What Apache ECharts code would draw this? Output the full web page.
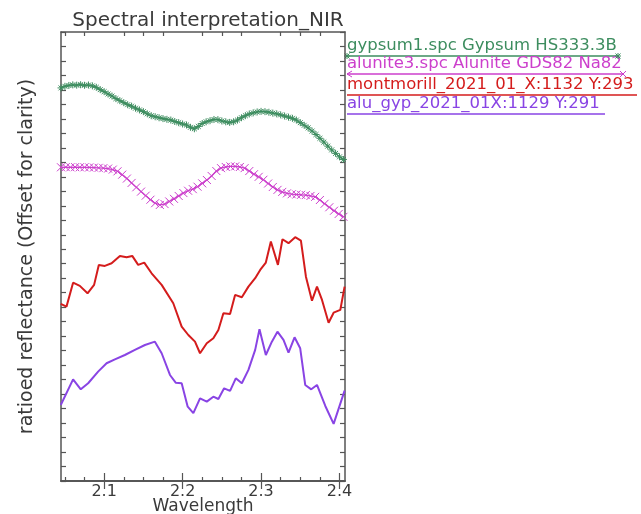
<!DOCTYPE html>
<html>
<head>
<meta charset="utf-8">
<title>Spectral interpretation_NIR</title>
<script src="https://cdn.jsdelivr.net/npm/echarts@6/dist/echarts.min.js"></script>
<style>
  html, body { margin: 0; padding: 0; background: #fff; }
  #chart { width: 641px; height: 514px; }
</style>
</head>
<body>
<div id="chart"></div>
<script>
// series names, as in the plot key
var seriesNames = [
    'gypsum1.spc Gypsum HS333.3B',
    'alunite3.spc Alunite GDS82 Na82',
    'montmorill_2021_01_X:1132 Y:293',
    'alu_gyp_2021_01X:1129 Y:291'
];
var seriesColors = ['#3d8d5f', '#cc3fcc', '#d41c1c', '#8944e4'];

// x tick labels (micrometres)
var xMajorTicks = [2.1, 2.2, 2.3, 2.4];
var xMinorTicks = [2.05, 2.075, 2.125, 2.15, 2.175, 2.225, 2.25, 2.275, 2.325, 2.35, 2.375];

// gypsum library spectrum (offset)
var gypsumWl = [2.045, 2.050, 2.055, 2.060, 2.065, 2.070, 2.075, 2.080, 2.085, 2.090,
    2.095, 2.100, 2.105, 2.110, 2.115, 2.120, 2.125, 2.130, 2.135, 2.140,
    2.145, 2.150, 2.155, 2.160, 2.165, 2.170, 2.175, 2.180, 2.185, 2.190,
    2.195, 2.200, 2.205, 2.210, 2.215, 2.220, 2.225, 2.230, 2.235, 2.240,
    2.245, 2.250, 2.255, 2.260, 2.265, 2.270, 2.275, 2.280, 2.285, 2.290,
    2.295, 2.300, 2.305, 2.310, 2.315, 2.320, 2.325, 2.330, 2.335, 2.340,
    2.345, 2.350, 2.355, 2.360, 2.365, 2.370, 2.375, 2.380, 2.385, 2.390,
    2.395, 2.400, 2.405];
var gypsumVal = [27.14, 27.25, 27.31, 27.35, 27.33, 27.36, 27.32, 27.34, 27.28, 27.18,
    27.02, 26.88, 26.72, 26.58, 26.40, 26.26, 26.12, 25.98, 25.88, 25.74,
    25.62, 25.50, 25.35, 25.22, 25.15, 25.08, 25.02, 24.97, 24.92, 24.82,
    24.74, 24.65, 24.58, 24.42, 24.32, 24.48, 24.68, 24.80, 24.88, 24.96,
    24.95, 24.86, 24.80, 24.76, 24.80, 24.92, 25.08, 25.22, 25.34, 25.42,
    25.48, 25.52, 25.50, 25.46, 25.40, 25.35, 25.28, 25.20, 25.12, 25.04,
    24.92, 24.74, 24.56, 24.38, 24.16, 23.92, 23.66, 23.40, 23.12, 22.86,
    22.62, 22.38, 22.20];

// alunite library spectrum (offset)
var aluniteWl = [2.045, 2.051, 2.057, 2.063, 2.069, 2.075, 2.081, 2.087, 2.093, 2.099,
    2.105, 2.111, 2.117, 2.123, 2.129, 2.135, 2.141, 2.147, 2.153, 2.159,
    2.165, 2.171, 2.177, 2.183, 2.189, 2.195, 2.201, 2.207, 2.213, 2.219,
    2.225, 2.231, 2.237, 2.243, 2.249, 2.255, 2.261, 2.267, 2.273, 2.279,
    2.285, 2.291, 2.297, 2.303, 2.309, 2.315, 2.321, 2.327, 2.333, 2.339,
    2.345, 2.351, 2.357, 2.363, 2.369, 2.375, 2.381, 2.387, 2.393, 2.399,
    2.405];
var aluniteVal = [21.66, 21.67, 21.66, 21.67, 21.66, 21.66, 21.65, 21.64, 21.62, 21.60,
    21.57, 21.50, 21.38, 21.15, 20.88, 20.58, 20.28, 19.98, 19.70, 19.42,
    19.18, 19.06, 19.12, 19.30, 19.48, 19.68, 19.88, 20.04, 20.15, 20.32,
    20.55, 20.78, 21.06, 21.40, 21.60, 21.68, 21.72, 21.72, 21.68, 21.60,
    21.40, 21.18, 21.00, 20.80, 20.54, 20.30, 20.10, 19.96, 19.86, 19.80,
    19.78, 19.76, 19.74, 19.68, 19.62, 19.40, 19.14, 18.90, 18.66, 18.44,
    18.24];

// image spectrum, montmorillonite pixel
var montWl = [2.0447, 2.0520, 2.0604, 2.0690, 2.0788, 2.0872, 2.0932, 2.1009, 2.1095, 2.1201,
    2.1286, 2.1358, 2.1434, 2.1511, 2.1605, 2.1733, 2.1881, 2.1988, 2.2073, 2.2158,
    2.2222, 2.2308, 2.2392, 2.2456, 2.2520, 2.2605, 2.2669, 2.2755, 2.2839, 2.2925,
    2.2989, 2.3061, 2.3125, 2.3215, 2.3273, 2.3350, 2.3435, 2.3508, 2.3572, 2.3649,
    2.3713, 2.3777, 2.3861, 2.3925, 2.4010, 2.4065];
var montVal = [12.23, 12.04, 13.69, 13.47, 12.96, 13.54, 14.92, 14.85, 15.03, 15.54,
    15.45, 15.54, 14.92, 15.08, 14.34, 13.54, 12.27, 10.66, 10.08, 9.62,
    8.82, 9.51, 9.86, 10.43, 11.58, 11.53, 12.85, 12.69, 13.42, 14.00,
    14.57, 15.08, 16.53, 14.92, 16.69, 16.42, 16.83, 16.60, 14.11, 12.45,
    13.42, 12.50, 10.93, 11.62, 11.81, 13.42];

// image spectrum, alunite + gypsum pixel
var aluGypWl = [2.0447, 2.0604, 2.0702, 2.0796, 2.0923, 2.1031, 2.1137, 2.1264, 2.1392, 2.1520,
    2.1647, 2.1733, 2.1839, 2.1912, 2.1988, 2.2065, 2.2137, 2.2222, 2.2308, 2.2392,
    2.2456, 2.2529, 2.2605, 2.2678, 2.2755, 2.2839, 2.2925, 2.2980, 2.3061, 2.3138,
    2.3209, 2.3286, 2.3350, 2.3427, 2.3499, 2.3563, 2.3640, 2.3713, 2.3819, 2.3925,
    2.4065];
var aluGypVal = [5.25, 7.02, 6.33, 6.75, 7.55, 8.13, 8.40, 8.70, 9.05, 9.39,
    9.62, 8.82, 7.32, 6.79, 6.75, 5.13, 4.68, 5.71, 5.48, 5.82,
    5.66, 6.40, 6.22, 7.09, 6.75, 7.67, 9.05, 10.48, 8.70, 9.62,
    10.31, 9.74, 8.86, 9.92, 9.16, 6.63, 6.33, 6.63, 5.18, 3.94,
    6.24];

function pairs(xs, ys) {
    var out = [];
    for (var i = 0; i < xs.length; i++) {
        out.push([xs[i], ys[i]]);
    }
    return out;
}

var FONT = 'DejaVu Sans';
var TEXT = '#3a3a3a';
var FRAME = '#555';
var X_MIN = 2.045, X_MAX = 2.407;

var starPath = 'path://M5,0L5,10M0,5L10,5M1.5,1.5L8.5,8.5M8.5,1.5L1.5,8.5';
var crossPath = 'path://M0,0L10,10M10,0L0,10';

function xAxisDef(grid, pos, ticks, len, withLabels) {
    var ax = {
        type: 'value',
        gridIndex: grid,
        position: pos,
        min: X_MIN,
        max: X_MAX,
        axisLine: { show: true, lineStyle: { color: FRAME, width: 1.5 } },
        axisTick: { show: true, inside: true, length: len, customValues: ticks,
                    lineStyle: { color: FRAME, width: 1.2 } },
        axisLabel: { show: false },
        splitLine: { show: false }
    };
    if (withLabels) {
        ax.axisLabel = {
            show: true,
            customValues: xMajorTicks,
            formatter: function(v) { return v.toFixed(1); },
            fontFamily: FONT,
            fontSize: 16,
            color: TEXT,
            margin: 3
        };
        ax.name = 'Wavelength';
        ax.nameLocation = 'middle';
        ax.nameGap = 17;
        ax.nameMoveOverlap = false;
        ax.nameTextStyle = { fontFamily: FONT, fontSize: 17, color: TEXT };
    }
    return ax;
}

function yAxisDef(grid, pos, withName) {
    var ax = {
        type: 'value',
        gridIndex: grid,
        position: pos,
        min: 0,
        max: 31,
        interval: 1,
        axisLine: { show: true, lineStyle: { color: FRAME, width: 1.5 } },
        axisTick: { show: true, inside: true, length: 5, lineStyle: { color: FRAME, width: 1.2 } },
        axisLabel: { show: false },
        splitLine: { show: false }
    };
    if (withName) {
        ax.name = 'ratioed reflectance (Offset for clarity)';
        ax.nameLocation = 'middle';
        ax.nameGap = 24;
        ax.nameTextStyle = { fontFamily: FONT, fontSize: 19, color: TEXT };
    }
    return ax;
}

var lineSeries = [
    { wl: gypsumWl, val: gypsumVal, symbol: starPath, size: 7, width: 1.3 },
    { wl: aluniteWl, val: aluniteVal, symbol: crossPath, size: 8, width: 1.3 },
    { wl: montWl, val: montVal, symbol: 'none', size: 0, width: 2 },
    { wl: aluGypWl, val: aluGypVal, symbol: 'none', size: 0, width: 2 }
];

var series = lineSeries.map(function(s, i) {
    return {
        name: seriesNames[i],
        type: 'line',
        xAxisIndex: 0,
        yAxisIndex: 0,
        data: pairs(s.wl, s.val),
        symbol: s.symbol,
        symbolSize: s.size,
        showSymbol: s.symbol !== 'none',
        lineStyle: { color: seriesColors[i], width: s.width },
        itemStyle: { color: seriesColors[i], borderColor: seriesColors[i], borderWidth: 1 },
        clip: true,
        z: 2
    };
});

// key drawn like the original: coloured text with its line underneath
var keyTop = [37, 55, 76, 95];
var keyLen = [271, 276, 290, 258];
var graphic = [];
seriesNames.forEach(function(name, i) {
    var y = keyTop[i] + 19;
    graphic.push({
        type: 'text',
        left: 347,
        top: keyTop[i],
        style: { text: name, font: '16.5px "' + FONT + '"', fill: seriesColors[i] }
    });
    graphic.push({
        type: 'line',
        shape: { x1: 347, y1: y, x2: 347 + keyLen[i], y2: y },
        style: { stroke: seriesColors[i], lineWidth: 1.3 }
    });
});
// end marks on the first two key lines
var gx = 347 + keyLen[0], ax2 = 347 + keyLen[1];
var gy = keyTop[0] + 19, ay = keyTop[1] + 19;
[[347, gy], [gx, gy]].forEach(function(p) {
    graphic.push({ type: 'line', shape: { x1: p[0] - 3, y1: p[1], x2: p[0] + 3, y2: p[1] }, style: { stroke: seriesColors[0], lineWidth: 1 } });
    graphic.push({ type: 'line', shape: { x1: p[0], y1: p[1] - 3, x2: p[0], y2: p[1] + 3 }, style: { stroke: seriesColors[0], lineWidth: 1 } });
    graphic.push({ type: 'line', shape: { x1: p[0] - 2.5, y1: p[1] - 2.5, x2: p[0] + 2.5, y2: p[1] + 2.5 }, style: { stroke: seriesColors[0], lineWidth: 1 } });
    graphic.push({ type: 'line', shape: { x1: p[0] + 2.5, y1: p[1] - 2.5, x2: p[0] - 2.5, y2: p[1] + 2.5 }, style: { stroke: seriesColors[0], lineWidth: 1 } });
});
graphic.push({ type: 'line', shape: { x1: ax2 - 3, y1: ay - 3, x2: ax2 + 3, y2: ay + 3 }, style: { stroke: seriesColors[1], lineWidth: 1 } });
graphic.push({ type: 'line', shape: { x1: ax2 + 3, y1: ay - 3, x2: ax2 - 3, y2: ay + 3 }, style: { stroke: seriesColors[1], lineWidth: 1 } });
graphic.push({ type: 'polyline', shape: { points: [[352, ay - 3], [347, ay], [352, ay + 3]] }, style: { stroke: seriesColors[1], lineWidth: 1, fill: null } });

var chart = echarts.init(document.getElementById('chart'));
var option = {
    animation: false,
    backgroundColor: '#fff',
    title: {
        text: 'Spectral interpretation_NIR',
        left: 203,
        textAlign: 'center',
        top: 6,
        textStyle: { fontFamily: FONT, fontSize: 20, fontWeight: 'normal', color: TEXT }
    },
    grid: [
        { left: 61, right: 296, top: 32, bottom: 33, outerBoundsMode: 'none' },
        { left: 61, right: 296, top: 32, bottom: 33, outerBoundsMode: 'none' }
    ],
    xAxis: [
        xAxisDef(0, 'bottom', xMajorTicks, 8, true),
        xAxisDef(0, 'top', xMajorTicks, 8, false),
        xAxisDef(1, 'bottom', xMinorTicks, 4, false),
        xAxisDef(1, 'top', xMinorTicks, 4, false)
    ],
    yAxis: [
        yAxisDef(0, 'left', true),
        yAxisDef(0, 'right', false),
        { type: 'value', gridIndex: 1, min: 0, max: 31, show: false }
    ],
    graphic: graphic,
    series: series
};
chart.setOption(option);
</script>
</body>
</html>
